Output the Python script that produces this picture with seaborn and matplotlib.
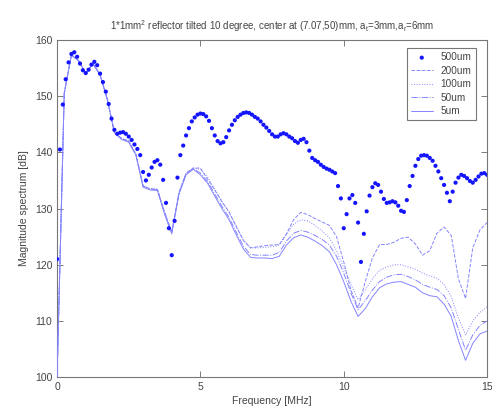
import numpy as np
import pandas as pd
import matplotlib
matplotlib.use("Agg")
import matplotlib.pyplot as plt
import seaborn as sns

# ---------------- data ----------------
freq_fine = [round(0.1 * i, 1) for i in range(151)]
mag_500um = [
    121.0, 140.5, 148.5, 153.0, 156.0, 157.5, 157.8, 157.0, 155.8, 154.6,
    154.1, 154.7, 155.6, 156.1, 155.5, 154.0, 152.5, 150.8, 148.6, 146.0,
    144.0, 143.3, 143.5, 143.6, 143.3, 142.8, 142.2, 141.4, 140.6, 139.5,
    136.5, 135.0, 136.0, 137.3, 138.3, 138.6, 137.8, 135.1, 131.0, 126.5,
    121.7, 127.8, 135.5, 139.5, 141.2, 143.0, 144.3, 145.5, 146.2, 146.7,
    146.9, 146.8, 146.4, 145.6, 144.3, 143.0, 142.0, 141.6, 141.8, 142.7,
    143.9, 144.9, 145.7, 146.3, 146.7, 147.0, 147.1, 147.0, 146.7, 146.3,
    146.0, 145.5, 144.9, 144.4, 143.8, 143.2, 142.8, 142.8, 143.2, 143.4,
    143.2, 142.8, 142.5, 142.0, 141.7, 142.2, 142.4, 141.8, 140.3, 139.0,
    138.6, 138.3, 137.8, 137.4, 137.1, 136.9, 136.6, 136.3, 134.0, 131.8,
    126.5, 129.0, 131.8, 132.4, 131.0, 127.5, 120.5, 125.5, 129.5, 132.3,
    133.8, 134.5, 134.2, 133.0, 131.7, 131.0, 131.1, 131.3, 131.1, 130.5,
    129.6, 129.4, 131.5, 134.0, 135.8, 137.6, 138.8, 139.4, 139.5, 139.4,
    139.0, 138.5, 137.6, 136.6, 135.4, 134.2, 132.8, 131.3, 133.0, 134.6,
    135.5, 136.0, 135.8, 135.4, 134.9, 134.6, 135.1, 135.7, 136.2, 136.3,
    136.0,
]

freq_coarse = [0.25 * i for i in range(61)]
mag_200um = [
    100.0, 150.5, 157.3, 156.3, 154.0, 155.8, 153.8, 149.5, 143.5, 142.5,
    142.0, 139.7, 134.0, 133.5, 133.4, 129.3, 125.8, 132.8, 136.3, 137.2,
    137.2, 135.2, 133.3, 131.2, 129.4, 126.8, 124.3, 123.0, 123.2, 123.4,
    123.5, 123.6, 125.5, 128.0, 129.3, 128.9, 128.2, 127.6, 127.0, 125.0,
    120.5, 115.5, 112.3, 117.0, 121.2, 123.6, 123.6, 124.0, 124.7, 124.9,
    123.7, 121.7, 122.5, 125.6, 126.7, 125.2, 117.5, 114.0, 123.0, 126.2,
    127.5,
]
mag_100um = [
    100.0, 150.5, 157.3, 156.3, 154.0, 155.8, 153.8, 149.5, 143.5, 142.5,
    142.0, 139.7, 134.0, 133.5, 133.4, 129.3, 125.8, 132.8, 136.3, 137.2,
    137.0, 135.6, 133.4, 131.3, 129.3, 126.8, 124.4, 123.0, 123.0, 123.1,
    123.2, 123.5, 125.3, 127.2, 128.0, 127.8, 127.0, 126.0, 124.8, 122.5,
    119.5, 116.5, 113.8, 115.5, 117.5, 119.0, 119.6, 120.0, 120.0, 119.6,
    119.2, 118.5, 118.0, 117.6, 116.5, 114.3, 110.5, 107.5, 110.0, 111.5,
    112.5,
]
mag_50um = [
    100.0, 150.5, 157.3, 156.3, 154.0, 155.8, 153.8, 149.5, 143.5, 142.4,
    141.9, 139.6, 134.0, 133.5, 133.4, 129.3, 125.8, 132.7, 136.2, 137.1,
    136.3, 134.8, 132.6, 130.4, 128.4, 125.8, 123.3, 121.8, 121.7, 121.7,
    121.7, 122.2, 124.2, 125.6, 126.1, 125.8, 125.2, 124.5, 123.5, 121.5,
    118.5, 115.0, 112.0, 113.6, 115.5, 117.0, 117.8, 118.2, 118.3, 117.9,
    117.3, 116.5, 116.0, 115.6, 114.5, 112.3, 108.5, 104.8, 107.5, 109.2,
    110.0,
]
mag_5um = [
    100.0, 150.5, 157.3, 156.3, 154.0, 155.8, 153.8, 149.5, 143.5, 142.3,
    141.8, 139.5, 133.8, 133.3, 133.2, 129.0, 125.5, 132.5, 136.0, 137.0,
    136.0, 134.5, 132.2, 130.0, 128.0, 125.3, 122.8, 121.3, 121.2, 121.2,
    121.1, 121.5, 123.5, 124.8, 125.3, 124.9, 124.2, 123.4, 122.3, 120.0,
    117.0, 113.5, 110.8, 112.2, 114.3, 115.9, 116.6, 116.9, 117.0, 116.5,
    116.0, 115.0, 114.5, 114.3, 113.0, 110.8, 106.5, 103.0, 106.0, 107.7,
    108.2,
]

labels = ["500um", "200um", "100um", "50um", "5um"]
x_ticks = [0, 5, 10, 15]
y_ticks = [100, 110, 120, 130, 140, 150, 160]

title = r"1*1mm$^2$ reflector tilted 10 degree, center at (7.07,50)mm, a$_t$=3mm,a$_r$=6mm"

# ---------------- style ----------------
sns.set_style("white")
plt.rcParams["font.family"] = ["Liberation Sans", "DejaVu Sans"]
plt.rcParams["mathtext.fontset"] = "custom"
plt.rcParams["mathtext.rm"] = "Liberation Sans"
plt.rcParams["mathtext.it"] = "Liberation Sans"

text_col = "#444444"
strong = "#1414ff"
light = "#8484ff"

fig = plt.figure(figsize=(4.92, 4.20), dpi=100)
ax = fig.add_axes([0.116, 0.102, 0.874, 0.803])

df_fine = pd.DataFrame({"f": freq_fine, "m": mag_500um})
sns.scatterplot(data=df_fine, x="f", y="m", ax=ax, color=strong, s=9,
                marker="o", edgecolor="none", label=labels[0], zorder=5)

styles = ["--", ":", "-.", "-"]
series = [mag_200um, mag_100um, mag_50um, mag_5um]
for lab, ls, vals in zip(labels[1:], styles, series):
    d = pd.DataFrame({"f": freq_coarse, "m": vals})
    sns.lineplot(data=d, x="f", y="m", ax=ax, color=light, linestyle=ls,
                 linewidth=0.7, label=lab, zorder=3)

ax.set_xlim(0, 15)
ax.set_ylim(100, 160)
ax.set_xticks(x_ticks)
ax.set_yticks(y_ticks)
ax.tick_params(direction="in", length=4, width=0.6, colors="#666666",
               labelcolor=text_col, labelsize=7.5, top=True, right=True,
               bottom=True, left=True)
for sp in ax.spines.values():
    sp.set_color("#777777")
    sp.set_linewidth(0.8)

ax.set_xlabel("Frequency [MHz]", fontsize=7.5, color=text_col, labelpad=3)
ax.set_ylabel("Magnitude spectrum [dB]", fontsize=7.5, color=text_col, labelpad=4)
ax.set_title(title, fontsize=7.0, color=text_col, pad=7)

leg = ax.legend(loc="upper right", fontsize=7.2, frameon=True, fancybox=False,
                edgecolor="#555555", handlelength=2.2, borderpad=0.4,
                labelspacing=0.35, markerscale=1.0,
                bbox_to_anchor=(0.985, 0.99))
leg.get_frame().set_linewidth(0.8)
for t in leg.get_texts():
    t.set_color(text_col)

fig.savefig("out.png", dpi=100)
